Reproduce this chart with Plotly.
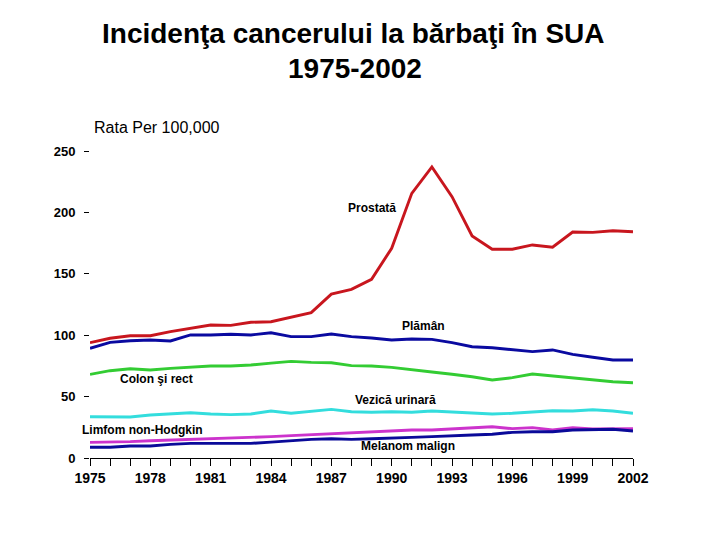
import plotly.graph_objects as go

years = list(range(1975, 2003))

prostata = [93.9, 97.5, 99.6, 99.6, 102.9, 105.6, 108.3, 108.0, 110.5, 111.0,
            115.0, 118.4, 133.5, 137.3, 145.5, 170.8, 215.5, 237.0, 212.8, 180.8,
            170.0, 170.0, 173.5, 171.6, 184.0, 183.7, 185.0, 184.3]
plaman = [89.3, 94.2, 95.5, 96.1, 95.3, 100.2, 100.2, 100.8, 100.2, 102.0,
          98.8, 98.8, 101.0, 98.8, 97.7, 96.1, 96.9, 96.6, 93.9, 90.6,
          89.8, 88.5, 86.6, 88.0, 84.4, 82.0, 79.8, 79.8]
colon = [68.1, 71.1, 72.7, 71.7, 73.0, 73.8, 74.9, 74.9, 75.7, 77.3,
         78.7, 77.9, 77.6, 75.2, 74.9, 73.8, 71.7, 70.0, 68.2, 66.2,
         63.5, 65.4, 68.4, 66.8, 65.4, 63.5, 62.1, 61.3]
vezica = [33.6, 33.6, 33.4, 35.0, 35.8, 36.9, 35.8, 35.3, 35.8, 38.3,
          36.4, 37.7, 39.6, 37.7, 37.2, 37.7, 37.2, 38.3, 37.6, 36.4,
          35.8, 36.4, 37.2, 38.5, 38.3, 39.3, 38.3, 36.4]
limfom = [12.7, 12.7, 13.3, 14.1, 14.6, 15.5, 16.0, 16.0, 16.8, 17.4,
          18.2, 19.0, 20.1, 20.6, 21.4, 22.3, 22.8, 22.8, 23.6, 24.2,
          25.5, 23.9, 24.7, 22.8, 24.7, 23.6, 23.6, 23.9]
melanom = [8.7, 8.7, 9.8, 9.8, 11.1, 11.9, 11.9, 11.9, 11.9, 12.9,
           14.1, 15.2, 15.7, 15.2, 15.7, 16.0, 16.8, 17.4, 17.8, 18.7,
           19.3, 20.9, 21.4, 21.4, 22.8, 23.4, 23.4, 22.0]

series = [
    ("Prostată", prostata, "#C8161E"),
    ("Plămân", plaman, "#0A0AA0"),
    ("Colon şi rect", colon, "#33CC33"),
    ("Vezică urinară", vezica, "#33DDDD"),
    ("Limfom non-Hodgkin", limfom, "#CC33CC"),
    ("Melanom malign", melanom, "#0A0A99"),
]

label_text = ["Prostată", "Plămân", "Colon şi rect", "Vezică urinară",
              "Limfom non-Hodgkin", "Melanom malign"]
label_x = [1989.0, 1991.6, 1978.3, 1990.2, 1977.6, 1990.8]
label_y = [203.6, 107.5, 64.3, 47.2, 22.8, 9.6]

tick_years = [y for y in years]
tick_text = [str(y) if (y - 1975) % 3 == 0 else "" for y in years]
y_ticks = [0, 50, 100, 150, 200, 250]

FONT = "Arial, Liberation Sans, sans-serif"

fig = go.Figure()
for name, vals, col in series:
    fig.add_trace(go.Scatter(x=years, y=vals, mode="lines", name=name,
                             line=dict(color=col, width=2.9),
                             showlegend=False, hoverinfo="skip"))

for t, xv, yv in zip(label_text, label_x, label_y):
    fig.add_annotation(x=xv, y=yv, text="<b>" + t + "</b>", showarrow=False,
                       font=dict(family=FONT, size=12, color="black"))

fig.add_annotation(xref="paper", yref="paper", x=0.486, y=1.384, yanchor="middle",
                   text="<b>Incidenţa cancerului la bărbaţi în SUA</b>",
                   showarrow=False, font=dict(family=FONT, size=28, color="black"))
fig.add_annotation(xref="paper", yref="paper", x=0.488, y=1.270, yanchor="middle",
                   text="<b>1975-2002</b>",
                   showarrow=False, font=dict(family=FONT, size=28, color="black"))
fig.add_annotation(xref="paper", yref="paper", x=0.004, y=1.075, xanchor="left",
                   yanchor="middle",
                   text="Rata Per 100,000",
                   showarrow=False, font=dict(family=FONT, size=16, color="black"))

fig.update_layout(
    width=712, height=532,
    margin=dict(l=82, r=87, t=143, b=82),
    paper_bgcolor="white", plot_bgcolor="white",
    font=dict(family=FONT, color="black"),
)
fig.update_xaxes(range=[1975, 2002], showline=True, linecolor="black", linewidth=1,
                 ticks="outside", ticklen=7, tickcolor="black", tickwidth=1,
                 tickvals=tick_years, ticktext=tick_text,
                 tickfont=dict(family=FONT, size=14, color="black", weight="bold"),
                 showgrid=False, zeroline=False)
fig.update_yaxes(range=[0, 250], showline=False,
                 ticks="outside", ticklen=5, tickcolor="black", tickwidth=1,
                 tickvals=y_ticks,
                 tickfont=dict(family=FONT, size=13, color="black", weight="bold"),
                 ticklabelstandoff=6,
                 showgrid=False, zeroline=False)

fig.write_html("out.html")
